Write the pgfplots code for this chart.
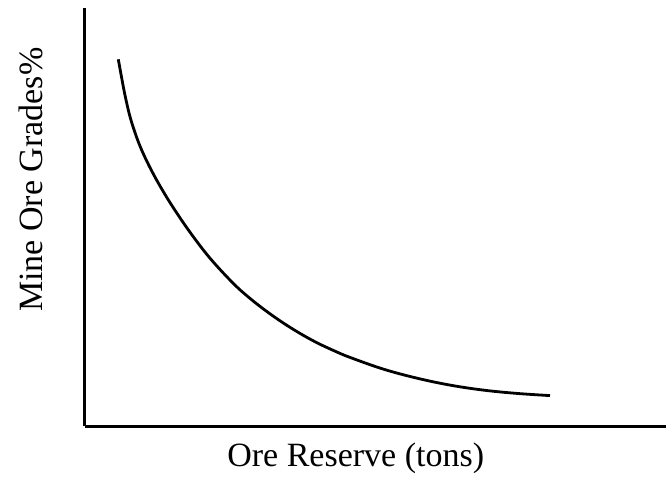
\documentclass[border=0pt]{standalone}
\usepackage{pgfplots}
\pgfplotsset{compat=1.18}
\usepackage{fontspec}
\setmainfont{Liberation Serif}
\begin{document}
\begin{tikzpicture}
\begin{axis}[
  at={(0,0)}, anchor=south west,
  scale only axis,
  width=581bp, height=418bp,
  xmin=85, xmax=666, ymin=51, ymax=469,
  axis lines=left,
  axis line style={-, line width=3bp, black},
  xtick=\empty, ytick=\empty,
  every axis x label/.style={at={(rel axis cs:0.466,-0.098)}, anchor=base},
  every axis y label/.style={at={(rel axis cs:-0.074,0.589)}, anchor=base, rotate=90},
  label style={font=\fontsize{34bp}{40bp}\selectfont},
  xlabel={Ore Reserve (tons)},
  ylabel={Mine Ore Grades\%},
  clip=false,
]
\addplot[black, line width=2.8bp, smooth, tension=0.6] coordinates {
(118.3,417.7) (121.7,399.0) (125,381.8) (130,360.3) (136.7,339.5)
(143.3,323.3) (151.7,306.1) (161.7,288.1) (173.3,269.3) (190,244.8)
(210,218.8) (233.3,193.6) (250,178.6) (266.7,165.6) (283.3,154.0)
(300,143.6) (316.7,134.4) (333.3,126.6) (350,119.6) (383.3,107.9)
(416.7,98.9) (450,91.9) (483.3,86.9) (516.7,83.6) (550,81.4)
};
\end{axis}
\pgfresetboundingbox
\path (-85bp,-51bp) rectangle (581bp,426bp);
\end{tikzpicture}
\end{document}
